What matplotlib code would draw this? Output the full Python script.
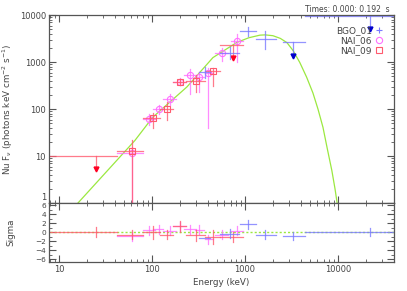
import numpy as np
import matplotlib
matplotlib.use("Agg")
from matplotlib import pyplot as plt
from matplotlib import transforms
from matplotlib.ticker import FixedLocator, NullFormatter

# NAI_09 (red squares), last and first points are upper limits
n9_e = [25, 61, 102, 145, 200, 297, 450, 740]
n9_elo = [8, 42, 80, 122, 168, 235, 370, 540]
n9_ehi = [42, 80, 122, 168, 235, 370, 540, 950]
n9_f = [10, 13, 64, 100, 380, 400, 656, 2260]
n9_flo = [5.3, 1.0, 39, 58, 330, 230, 310, 1250]
n9_fhi = [10, 22, 82, 141, 440, 520, 760, 2260]
n9_ul = [True, False, False, False, False, False, False, True]
n9_res = [0.0, -0.5, 0.0, -0.5, 1.3, -0.7, -1.1, -1.1]
n9_rerr = [1.1, 1.0, 1.4, 1.1, 1.3, 1.2, 1.5, 1.1]

# NAI_06 (magenta circles)
n6_e = [61, 93, 119, 156, 200, 256, 320, 400, 565, 820]
n6_elo = [42, 80, 104, 133, 168, 220, 290, 370, 480, 700]
n6_ehi = [80, 108, 133, 180, 235, 300, 360, 450, 660, 960]
n6_f = [11.9, 61, 100, 164, 380, 537, 490, 590, 1590, 2760]
n6_flo = [0.8, 45, 80, 120, 320, 210, 230, 40, 1050, 1000]
n6_fhi = [16, 80, 125, 210, 450, 700, 610, 760, 2000, 3900]
n6_res = [-0.9, 0.5, 0.7, 0.3, 1.3, 0.7, 0.6, -1.5, -0.5, 0.3]
n6_rerr = [1.0, 1.0, 1.0, 1.0, 1.0, 1.0, 1.0, 1.0, 1.0, 1.0]

# BGO_01 (blue crosses), last two are upper limits
bg_e = [370, 690, 1080, 1640, 3300, 22000]
bg_elo = [320, 540, 880, 1320, 2570, 4400]
bg_ehi = [420, 860, 1320, 2150, 4400, 40000]
bg_f = [620, 1590, 4530, 3050, 2630, 9500]
bg_flo = [450, 1150, 3600, 1900, 1380, 5000]
bg_fhi = [780, 2050, 5600, 4600, 2630, 9500]
bg_ul = [False, False, False, False, True, True]
bg_res = [-1.3, -0.3, 1.8, -0.5, -0.8, 0.0]
bg_rerr = [0.0, 1.0, 1.0, 0.9, 0.9, 0.9]

# model curve
mod_e = [16, 65.6, 102, 238, 453, 820, 1100, 1450, 1650, 2000, 2400, 2830,
         3300, 3890, 4600, 5380, 6100, 6900, 7700, 8600, 9300, 9800]
mod_f = [1.0, 21.5, 67, 297, 1250, 2630, 3300, 3750, 3800, 3650, 3200, 2600,
         1750, 980, 480, 221, 100, 41, 14, 4.9, 2.0, 1.0]
res_e = [8, 40000]
res_0 = [0, 0]

c_red = '#ff5a6e'
c_mag = '#ff70ff'
c_blue = '#7a7aff'
c_grn = '#9be840'
gray = '#555555'
tcol = '#444444'

plt.rcParams['font.family'] = 'DejaVu Sans'
plt.rcParams['font.size'] = 6

fig = plt.figure(figsize=(4.07, 2.91), dpi=100)
ax = fig.add_axes([0.120, 0.302, 0.848, 0.646])
ax2 = fig.add_axes([0.120, 0.100, 0.848, 0.202])


def draw(a, e, elo, ehi, f, flo, fhi, col, marker, ul=None, acol=None):
    for i in range(len(e)):
        a.plot([elo[i], ehi[i]], [f[i], f[i]], color=col, lw=0.9, alpha=0.8)
        if ul is not None and ul[i]:
            a.plot([e[i], e[i]], [f[i], flo[i]], color=col, lw=0.9, alpha=0.8)
            a.plot(e[i], flo[i], marker='v', color=acol, ms=3.5, mec=acol)
        else:
            a.plot([e[i], e[i]], [flo[i], fhi[i]], color=col, lw=0.9, alpha=0.8)
            if marker != '+':
                a.plot(e[i], f[i], marker=marker, mfc='none', mec=col, ms=4.5, mew=0.8)


ax.plot(mod_e, mod_f, color=c_grn, lw=0.9)
draw(ax, n6_e, n6_elo, n6_ehi, n6_f, n6_flo, n6_fhi, c_mag, 'o')
draw(ax, n9_e, n9_elo, n9_ehi, n9_f, n9_flo, n9_fhi, c_red, 's', n9_ul, '#ff0022')
draw(ax, bg_e, bg_elo, bg_ehi, bg_f, bg_flo, bg_fhi, c_blue, '+', bg_ul, '#0000cc')

ax2.plot(res_e, res_0, color=c_grn, lw=1.0, ls=(0, (1.5, 1.5)))
for e, elo, ehi, r, re, col in [(n6_e, n6_elo, n6_ehi, n6_res, n6_rerr, c_mag),
                                (n9_e, n9_elo, n9_ehi, n9_res, n9_rerr, c_red),
                                (bg_e, bg_elo, bg_ehi, bg_res, bg_rerr, c_blue)]:
    for i in range(len(e)):
        ax2.plot([elo[i], ehi[i]], [r[i], r[i]], color=col, lw=0.9, alpha=0.8)
        ax2.plot([e[i], e[i]], [r[i] - re[i], r[i] + re[i]], color=col, lw=0.9, alpha=0.8)

for a in (ax, ax2):
    a.set_xscale('log')
    a.set_xlim(7.8, 40000)
    for s in a.spines.values():
        s.set_color(gray)
        s.set_linewidth(0.9)
    a.tick_params(which='both', direction='in', top=True, right=True, colors=gray,
                  labelcolor=tcol, labelsize=6, pad=2)
    a.tick_params(which='major', length=5)
    a.tick_params(which='minor', length=2.5)

ax.set_yscale('log')
ax.set_ylim(1, 10000)
ax.set_yticks([1, 10, 100, 1000, 10000])
ax.set_yticklabels(['1', '10', '100', '1000', '10000'])
ax.xaxis.set_major_formatter(NullFormatter())
ax.xaxis.set_minor_formatter(NullFormatter())
ax.yaxis.set_minor_formatter(NullFormatter())
ax.set_ylabel(r'Nu F$_{\nu}$ (photons keV cm$^{-2}$ s$^{-1}$)', color=tcol, fontsize=6.3)
ax.yaxis.set_label_coords(-0.098, 0.5)

ax2.set_ylim(-6.6, 6.5)
ax2.set_yticks([-6, -4, -2, 0, 2, 4, 6])
ax2.yaxis.set_minor_locator(FixedLocator(np.arange(-6, 7, 1)))
ax2.tick_params(axis='y', labelsize=5.3)
ax2.set_xticks([10, 100, 1000, 10000])
ax2.set_xticklabels(['10', '100', '1000', '10000'])
ax2.xaxis.set_minor_formatter(NullFormatter())
ax2.set_ylabel('Sigma', color=tcol, fontsize=6.3)
ax2.yaxis.set_label_coords(-0.098, 0.5)
ax2.set_xlabel('Energy (keV)', color=tcol, fontsize=6.3, labelpad=3)

# nudge the "1" label up where the two panels meet
fig.canvas.draw()
lab1 = ax.get_yticklabels()[0]
lab1.set_transform(lab1.get_transform() +
                   transforms.ScaledTranslation(0, 4.5 / 72, fig.dpi_scale_trans))

# legend
labels = ['BGO_01', 'NAI_06', 'NAI_09']
lcols = [c_blue, c_mag, c_red]
lmark = ['+', 'o', 's']
lpos = [0.92, 0.867, 0.812]
for i in range(3):
    ax.text(0.936, lpos[i], labels[i], transform=ax.transAxes, ha='right', va='center',
            color=tcol, fontsize=6.5)
    ax.plot(0.957, lpos[i], transform=ax.transAxes, marker=lmark[i], mfc='none',
            mec=lcols[i], ms=4.5, mew=0.8, clip_on=False)
fig.text(0.958, 0.966, 'Times: 0.000: 0.192  s', ha='right', va='center',
         fontsize=5.5, color=tcol)

fig.savefig('out.png', dpi=100)
